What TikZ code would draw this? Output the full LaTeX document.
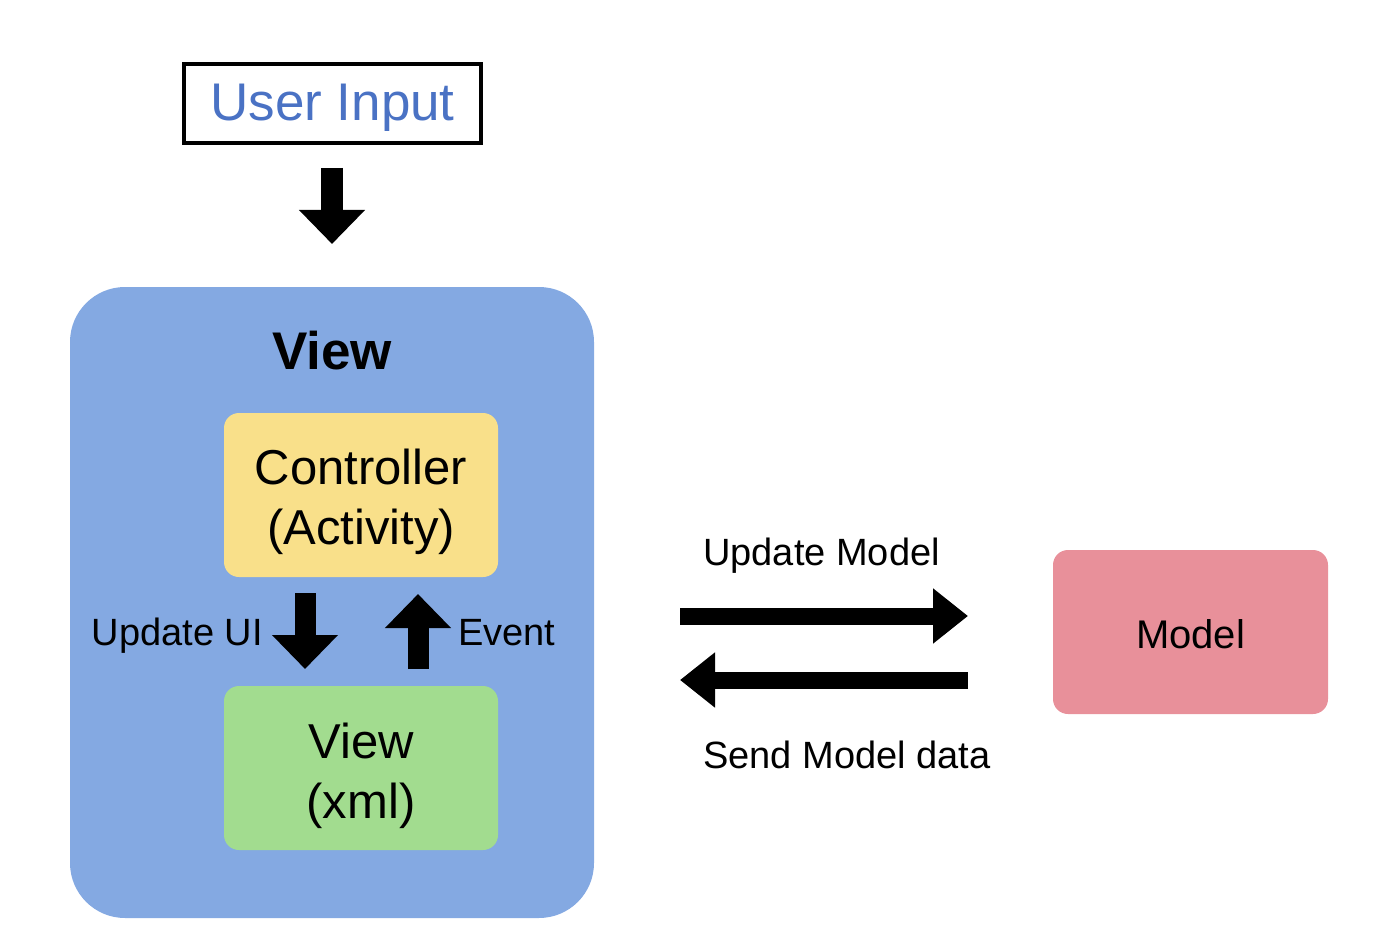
\documentclass[tikz,border=0pt]{standalone}
\usepackage{fontspec}
\setmainfont{Liberation Sans}
\usetikzlibrary{arrows.meta}
\definecolor{viewblue}{HTML}{84A9E2}
\definecolor{ctrlyellow}{HTML}{F9E08A}
\definecolor{xmlgreen}{HTML}{A2DC8F}
\definecolor{modelpink}{HTML}{E8909A}
\definecolor{inputblue}{HTML}{4A72C4}
\begin{document}
\begin{tikzpicture}[x=1pt,y=-1pt,
  bigarrow/.style={line width=22pt,-{Triangle[width=64pt,length=34pt]}},
  smallarrow/.style={line width=21pt,-{Triangle[width=64pt,length=34pt]}},
  flatarrow/.style={line width=17pt,-{Triangle[width=53pt,length=35pt]}},
  innerbox/.style={rectangle,rounded corners=15pt,minimum width=274pt,minimum height=164pt,inner sep=0pt},
  innertext/.style={inner sep=0pt,align=center,font=\fontsize{49}{60}\selectfont},
  lbl/.style={inner sep=0pt,font=\fontsize{38}{44}\selectfont}]
\useasboundingbox (0,0) rectangle (1392,952);
% user input
\node[draw=black,line width=3.5pt,minimum width=297pt,minimum height=79pt,inner sep=0pt] (input) at (332.5,103.5) {};
\node[inner sep=0pt,text=inputblue,font=\fontsize{53}{60}\selectfont] (inputtext) at (332.5,108) {User Input};
\coordinate (ua1) at (332,168);
\coordinate (ua2) at (332,244);
\draw[bigarrow] (ua1) -- (ua2);
% view container
\node[fill=viewblue,rectangle,rounded corners=55pt,minimum width=524pt,minimum height=631pt] (view) at (332,602.5) {};
\node[inner sep=0pt,font=\fontsize{53}{60}\selectfont\bfseries] (viewtitle) at (332,351) {View};
\node[innerbox,fill=ctrlyellow] (ctrl) at (361,495) {};
\node[innertext] (ctrltext) at (361,502) {Controller\\(Activity)};
\node[innerbox,fill=xmlgreen] (xml) at (361,768) {};
\node[innertext] (xmltext) at (361,776) {View\\(xml)};
% inner arrows
\coordinate (uu1) at (305,593);
\coordinate (uu2) at (305,669);
\draw[smallarrow] (uu1) -- (uu2);
\coordinate (ev1) at (418,669);
\coordinate (ev2) at (418,594);
\draw[smallarrow] (ev1) -- (ev2);
\node[lbl,anchor=east] (uplbl) at (263,636) {Update UI};
\node[lbl,anchor=west] (evlbl) at (458,633) {Event};
% model
\node[rectangle,rounded corners=15pt,fill=modelpink,minimum width=275pt,minimum height=164pt,inner sep=0pt] (model) at (1190.5,632) {};
\node[inner sep=0pt,font=\fontsize{40}{48}\selectfont] (modeltext) at (1190.5,634) {Model};
\coordinate (r1) at (680,616);
\coordinate (r2) at (968,616);
\draw[flatarrow] (r1) -- (r2);
\coordinate (l1) at (968,680);
\coordinate (l2) at (680,680);
\draw[flatarrow] (l1) -- (l2);
\node[lbl,anchor=west] (updm) at (703,556) {Update Model};
\node[lbl,anchor=west] (sendm) at (703,755) {Send Model data};
\end{tikzpicture}
\end{document}
